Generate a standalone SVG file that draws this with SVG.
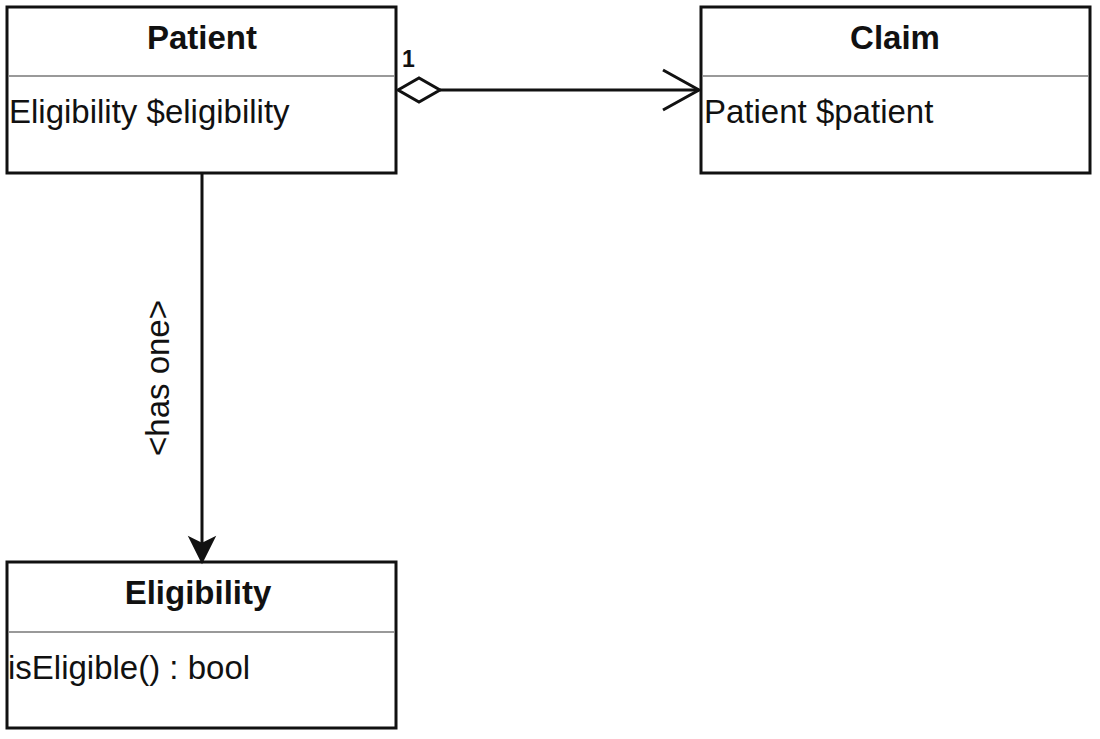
<svg xmlns="http://www.w3.org/2000/svg" width="1100" height="739" viewBox="0 0 1100 739">
<style>
.box{fill:#fff;stroke:#111;stroke-width:3}
.div{stroke:#999;stroke-width:2}
.title{font-family:"Liberation Sans",Arial,sans-serif;font-weight:bold;font-size:33px;fill:#111;text-anchor:middle}
.attr{font-family:"Liberation Sans",Arial,sans-serif;font-size:33px;fill:#111}
.lbl{font-family:"Liberation Sans",Arial,sans-serif;font-size:23px;font-weight:bold;fill:#111}
.edge{fill:none;stroke:#111;stroke-width:3}
</style>
<rect width="1100" height="739" fill="#fff"/>
<g id="patient">
<rect class="box" x="7" y="7" width="389" height="166"/>
<line class="div" x1="9" y1="76" x2="394" y2="76"/>
<text class="title" x="202" y="49">Patient</text>
<text class="attr" x="9" y="123">Eligibility $eligibility</text>
</g>
<g id="claim">
<rect class="box" x="701" y="7" width="389" height="166"/>
<line class="div" x1="703" y1="76" x2="1088" y2="76"/>
<text class="title" x="895" y="49">Claim</text>
<text class="attr" x="704" y="123">Patient $patient</text>
</g>
<g id="eligibility">
<rect class="box" x="7" y="562" width="389" height="166"/>
<line class="div" x1="9" y1="632" x2="394" y2="632"/>
<text class="title" x="198" y="604">Eligibility</text>
<text class="attr" x="8" y="679">isEligible() : bool</text>
</g>
<g id="connectors">
<path class="edge" d="M440,90 L699,90"/>
<path d="M398,90 L419,78 L440,90 L419,102 Z" fill="#fff" stroke="#111" stroke-width="3"/>
<path class="edge" d="M663,70 L699,90 L663,110"/>
<text class="lbl" x="402" y="67">1</text>
<path class="edge" d="M202,174 L202,548"/>
<path d="M202,562 L190,538 L202,544 L214,538 Z" fill="#111" stroke="#111" stroke-width="2" stroke-linejoin="miter"/>
<text class="attr" transform="translate(169,378) rotate(-90)" text-anchor="middle">&lt;has one&gt;</text>
</g>
</svg>
